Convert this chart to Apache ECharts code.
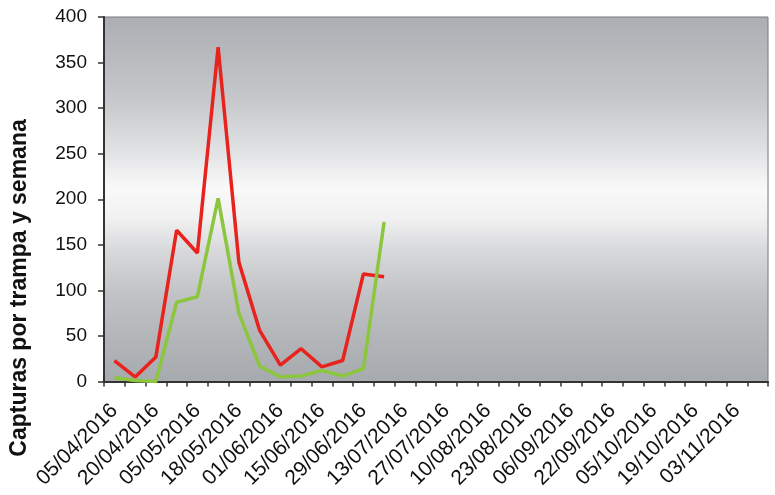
<!DOCTYPE html>
<html>
<head>
<meta charset="utf-8">
<script src="https://cdn.jsdelivr.net/npm/echarts@6/dist/echarts.min.js"></script>
<style>html,body{margin:0;padding:0;background:#fff}#c{width:775px;height:495px}</style>
</head>
<body>
<div id="c"></div>
<script>
var categories = ['05/04/2016','12/04/2016','20/04/2016','27/04/2016','05/05/2016','11/05/2016','18/05/2016','25/05/2016',
  '01/06/2016','08/06/2016','15/06/2016','22/06/2016','29/06/2016','06/07/2016','13/07/2016','20/07/2016',
  '27/07/2016','03/08/2016','10/08/2016','17/08/2016','23/08/2016','30/08/2016','06/09/2016','14/09/2016',
  '22/09/2016','28/09/2016','05/10/2016','12/10/2016','19/10/2016','26/10/2016','03/11/2016','10/11/2016'];
var redSeries = [23, 5, 27, 166, 141, 367, 131, 56, 18, 36, 16, 23, 118, 115];
var greenSeries = [4, 1, 0, 87, 93, 201, 75, 17, 5, 6, 12, 6, 14, 175];
var yTicks = {min: 0, max: 400, interval: 50};
var yTitle = 'Capturas por trampa y semana';

var chart = echarts.init(document.getElementById('c'), null, {renderer: 'canvas'});
var font = '"Liberation Sans", Arial, sans-serif';
chart.setOption({
  animation: false,
  grid: {
    left: 104, right: 7, top: 17, bottom: 113.5,
    show: true,
    borderColor: '#7a7a7a',
    borderWidth: 1,
    backgroundColor: {
      type: 'linear', x: 0, y: 0, x2: 0, y2: 1,
      colorStops: [
        {offset: 0, color: '#abaeb2'},
        {offset: 0.23, color: '#c6c8cb'},
        {offset: 0.36, color: '#dfe0e2'},
        {offset: 0.47, color: '#f9f9f9'},
        {offset: 0.55, color: '#f1f1f2'},
        {offset: 0.64, color: '#d8d9db'},
        {offset: 0.77, color: '#bfc1c4'},
        {offset: 1, color: '#a6a9ad'}
      ]
    }
  },
  graphic: [{
    type: 'text',
    x: 20, y: 288,
    rotation: Math.PI / 2,
    style: {
      text: yTitle,
      fill: '#111',
      font: 'bold 23px ' + font,
      align: 'center',
      verticalAlign: 'middle'
    }
  }],
  xAxis: {
    type: 'category',
    data: categories,
    boundaryGap: true,
    axisLine: {lineStyle: {color: '#333', width: 2}},
    axisTick: {show: true, interval: 0, length: 5, lineStyle: {color: '#333', width: 1.5}},
    axisLabel: {interval: 1, rotate: 45, margin: 26, color: '#111', fontSize: 21, fontFamily: font},
    splitLine: {show: false}
  },
  yAxis: {
    type: 'value',
    min: yTicks.min, max: yTicks.max, interval: yTicks.interval,
    axisLine: {show: true, lineStyle: {color: '#333', width: 2}},
    axisTick: {show: true, length: 6, lineStyle: {color: '#333', width: 1.5}},
    axisLabel: {color: '#111', fontSize: 19, margin: 17, fontFamily: font},
    splitLine: {show: false}
  },
  series: [
    {type: 'line', data: redSeries, symbol: 'none', smooth: false,
     lineStyle: {color: '#e8231d', width: 3.5}, itemStyle: {color: '#e8231d'}},
    {type: 'line', data: greenSeries, symbol: 'none', smooth: false,
     lineStyle: {color: '#8cc63f', width: 3.5}, itemStyle: {color: '#8cc63f'}}
  ]
});
</script>
</body>
</html>
